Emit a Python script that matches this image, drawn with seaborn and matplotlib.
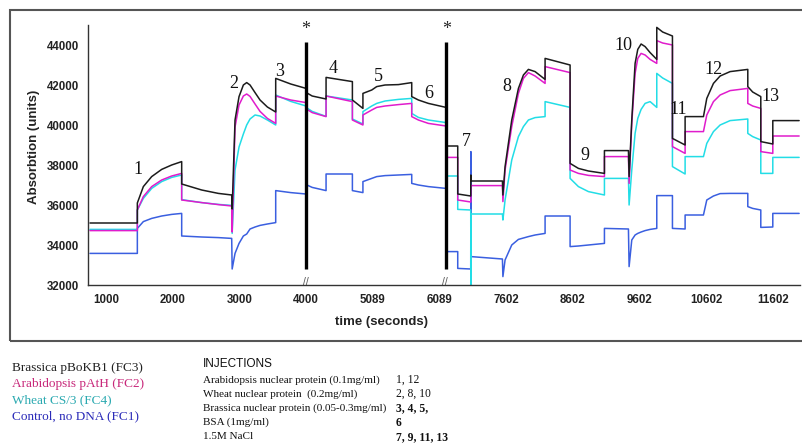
import numpy as np
import pandas as pd
import matplotlib
matplotlib.use("Agg")
import matplotlib.pyplot as plt
from matplotlib.patches import Rectangle
from matplotlib.ticker import FixedLocator, NullFormatter
from matplotlib.transforms import blended_transform_factory
import seaborn as sns

# broken time axis: the labelled ticks sit evenly spaced on the page
TICK_TIMES = [1000, 2000, 3000, 4000, 5089, 6089, 7602, 8602, 9602, 10602, 11602]

# sensorgram, time in seconds (repeated times = step changes)
TIME = [760, 1470, 1470, 1560, 1685, 1835, 1985, 2135, 2135, 2435,
        2685, 2885, 2892, 2935, 2995, 3060, 3110, 3160, 3235, 3310,
        3420, 3545, 3545, 3770, 4000, 4015, 4100, 4327, 4327, 4757,
        4757, 4929, 4929, 5073, 5149, 5274, 5474, 5674, 5674, 5774,
        5924, 6240, 6260, 6505, 6505, 6800, 6803, 6806, 7519, 7530,
        7579, 7687, 7787, 7862, 7937, 8037, 8187, 8187, 8562, 8562,
        8687, 8837, 9077, 9077, 9437, 9447, 9487, 9537, 9577, 9627,
        9687, 9762, 9862, 9862, 9950, 10097, 10097, 10287, 10287, 10562,
        10612, 10712, 10812, 10962, 11227, 11227, 11300, 11422, 11422, 11602,
        11602, 11997]

FC3 = [35100, 35100, 36100, 36920, 37420, 37780, 38000, 38170, 37050, 36750,
       36580, 36500, 35800, 40250, 41420, 42000, 42120, 42000, 41620, 41250,
       40900, 40650, 42330, 42050, 41830, 41600, 41450, 41300, 42380, 42170,
       41250, 40830, 41580, 41750, 41920, 42000, 42020, 42120, 41420, 41250,
       41080, 40880, 38950, 38950, 36550, 36450, 37500, 37200, 37200, 36500,
       37920, 40250, 41830, 42500, 42780, 42670, 42280, 43330, 43000, 38080,
       37830, 37700, 37580, 38720, 38720, 37420, 40250, 43080, 43780, 44050,
       43920, 43620, 43280, 44880, 44650, 44450, 39330, 39000, 40420, 40420,
       41330, 42080, 42450, 42670, 42780, 41920, 41650, 41420, 39170, 39050,
       40220, 40220]

FC2 = [34720, 34720, 35750, 36420, 36920, 37250, 37450, 37580, 36250, 36120,
       36020, 35950, 34650, 39900, 41000, 41450, 41550, 41430, 41050, 40680,
       40330, 40080, 41450, 41250, 41120, 40780, 40620, 40420, 41450, 41170,
       40250, 40000, 40500, 40750, 40880, 40950, 41020, 41080, 40420, 40250,
       40080, 39950, 38380, 38380, 36250, 36150, 36150, 36970, 36970, 36170,
       37750, 39920, 41580, 42330, 42620, 42450, 42080, 42920, 42620, 37750,
       37580, 37480, 37420, 38420, 38420, 37080, 40080, 42580, 43330, 43580,
       43500, 43280, 43080, 44220, 44100, 44000, 38920, 38580, 39670, 39670,
       40500, 41170, 41500, 41720, 41830, 41080, 40950, 40830, 38670, 38580,
       39450, 39450]

FC4 = [34780, 34780, 35750, 36330, 36830, 37170, 37380, 37500, 36270, 36120,
       36030, 35980, 34580, 37750, 38900, 39550, 40000, 40300, 40500, 40450,
       40250, 40000, 41500, 41180, 40950, 40850, 40680, 40430, 41450, 41250,
       40300, 40050, 40670, 40950, 41080, 41200, 41280, 41330, 40580, 40380,
       40250, 40120, 37450, 37450, 35780, 35750, 31900, 35550, 35550, 35250,
       36250, 38250, 39420, 39920, 40250, 40370, 40420, 41170, 40880, 37330,
       36920, 36670, 36500, 37330, 37330, 36000, 37750, 39580, 40330, 40780,
       41080, 41170, 40880, 42580, 42350, 42080, 37920, 37550, 38420, 38420,
       39080, 39670, 40000, 40220, 40300, 39580, 39420, 39250, 37580, 37580,
       38380, 38380]

FC1 = [33580, 33580, 34830, 35170, 35330, 35450, 35530, 35580, 34450, 34400,
       34370, 34330, 32800, 33580, 34080, 34450, 34550, 34800, 34900, 34980,
       35050, 35120, 36720, 36620, 36550, 37000, 36880, 36720, 37550, 37550,
       36720, 36620, 37170, 37330, 37420, 37470, 37500, 37530, 37080, 37000,
       36920, 36830, 33670, 33670, 32830, 32800, 38670, 33420, 33300, 32420,
       33250, 34000, 34280, 34350, 34420, 34500, 34580, 35450, 35450, 33920,
       33950, 34000, 34080, 34830, 34800, 32920, 34250, 34500, 34580, 34650,
       34720, 34780, 34830, 36470, 36470, 36470, 34830, 34800, 35500, 35500,
       36250, 36450, 36570, 36580, 36580, 35920, 35830, 35750, 34880, 34900,
       35580, 35580]

SERIES = ["Brassica pBoKB1 (FC3)", "Arabidopsis pAtH (FC2)",
          "Wheat CS/3 (FC4)", "Control, no DNA (FC1)"]
LINE_COLORS = ["#1c1c1c", "#e01ccc", "#22dde6", "#3a5fe0"]
TEXT_COLORS = ["#222222", "#c8287a", "#2aa9b0", "#2a2ab8"]

# injection numbers on the chart
INJ_LABELS = ["1", "2", "3", "4", "5", "6", "7", "8", "9", "10", "11", "12", "13"]
INJ_X = [1485, 2910, 3610, 4436, 5174, 5924, 6694, 7612, 8777, 9362, 10187, 10712, 11562]
INJ_Y = [37750, 42083, 42667, 42833, 42417, 41583, 39167, 41917, 38500, 44000, 40750, 42750, 41417]

STAR_TIMES = [4000, 6250]

INJ_NAMES = ["Arabidopsis nuclear protein (0.1mg/ml)", "Wheat nuclear protein  (0.2mg/ml)",
             "Brassica nuclear protein (0.05-0.3mg/ml)", "BSA (1mg/ml)", "1.5M NaCl"]
INJ_NUMBERS = ["1, 12", "2, 8, 10", "3, 4, 5,", "6", "7, 9, 11, 13"]
INJ_BOLD = [False, False, True, True, True]

df = pd.DataFrame({"time": TIME * 4,
                   "value": FC3 + FC2 + FC4 + FC1,
                   "series": np.repeat(SERIES, len(TIME))})

sns.set_style("white")
plt.rcParams["font.family"] = ["Liberation Sans", "DejaVu Sans"]

W, H = 803, 446
fig = plt.figure(figsize=(W / 100, H / 100), dpi=100)
ax = fig.add_axes([88 / W, 1 - 285 / H, 712 / W, 260 / H])

POS = np.arange(-1, 12)
ANCHORS = [0] + TICK_TIMES + [12602]


def fwd(t):
    return np.interp(t, ANCHORS, POS)


def inv(p):
    return np.interp(p, POS, ANCHORS)


ax.set_xscale("function", functions=(fwd, inv))

for name, col in list(zip(SERIES, LINE_COLORS))[::-1]:
    sns.lineplot(data=df[df["series"] == name], x="time", y="value", ax=ax,
                 color=col, lw=1.1, estimator=None, sort=False, legend=False)

ax.set_xlim(730, 12010)
ax.set_ylim(32000, 45000)
ax.xaxis.set_major_locator(FixedLocator(TICK_TIMES))
ax.set_xticklabels([str(t) for t in TICK_TIMES])
quarters = [q for q in np.arange(-0.25, 10.6, 0.25) if abs(q - round(q)) > 0.01]
ax.xaxis.set_minor_locator(FixedLocator(inv(np.array(quarters))))
ax.xaxis.set_minor_formatter(NullFormatter())
ax.set_yticks(np.arange(32000, 44001, 2000))
ax.yaxis.set_minor_locator(FixedLocator(np.arange(32000, 45001, 500)))
ax.tick_params(which="both", direction="inout", length=5, width=0.9, color="#333333")
ax.tick_params(axis="both", which="major", labelsize=8.3, labelcolor="#222222", pad=4)
for lab in ax.get_xticklabels() + ax.get_yticklabels():
    lab.set_fontweight("bold")
sns.despine(ax=ax)
for s in ["left", "bottom"]:
    ax.spines[s].set_color("#333333")
    ax.spines[s].set_linewidth(1.0)
ax.set_xlabel("")
ax.set_ylabel("Absorbtion (units)", fontsize=9.5, fontweight="bold", color="#222222")
ax.yaxis.set_label_coords(-0.068, 0.53)

# regeneration markers
ax.vlines(STAR_TIMES, 32800, 44170, color="black", lw=2.4)
for t in STAR_TIMES:
    ax.text(t, 44750, "*", ha="center", va="center", fontsize=13,
            family="Liberation Serif")
# axis break marks
trans = blended_transform_factory(ax.transData, ax.transAxes)
for t in [4000, 6218]:
    ax.text(t, 0.01, "//", transform=trans, ha="center", va="center",
            fontsize=7.5, color="#555555", clip_on=False)

for lab, x, y in zip(INJ_LABELS, INJ_X, INJ_Y):
    ax.text(x, y, lab, ha="center", va="center", fontsize=13,
            family="Liberation Serif", color="#111111")

fig.text(382 / W, 1 - 322 / H, "time (seconds)", ha="center", va="center",
         fontsize=9.5, fontweight="bold", color="#222222")

# outer frame around the plot
fig.patches.append(Rectangle((10 / W, 1 - 341 / H), 1.0, 331 / H,
                             transform=fig.transFigure, fill=False,
                             edgecolor="#555555", lw=1.5))

# legend of flow cells
for i, (name, col) in enumerate(zip(SERIES, TEXT_COLORS)):
    fig.text(12 / W, 1 - (368 + 16 * i) / H, name, ha="left", va="center",
             fontsize=9.5, color=col, family="Liberation Serif")

fig.text(203 / W, 1 - 364 / H, "INJECTIONS", ha="left", va="center",
         fontsize=8.5, color="#111111")
for i, (nm, num, bold) in enumerate(zip(INJ_NAMES, INJ_NUMBERS, INJ_BOLD)):
    y = 1 - (380 + 14.2 * i) / H
    fig.text(203 / W, y, nm, ha="left", va="center", fontsize=8.0,
             color="#111111", family="Liberation Serif")
    fig.text(396 / W, y, num, ha="left", va="center", fontsize=8.4,
             color="#111111", family="Liberation Serif",
             fontweight="bold" if bold else "normal")

fig.savefig("out.png", dpi=100)
